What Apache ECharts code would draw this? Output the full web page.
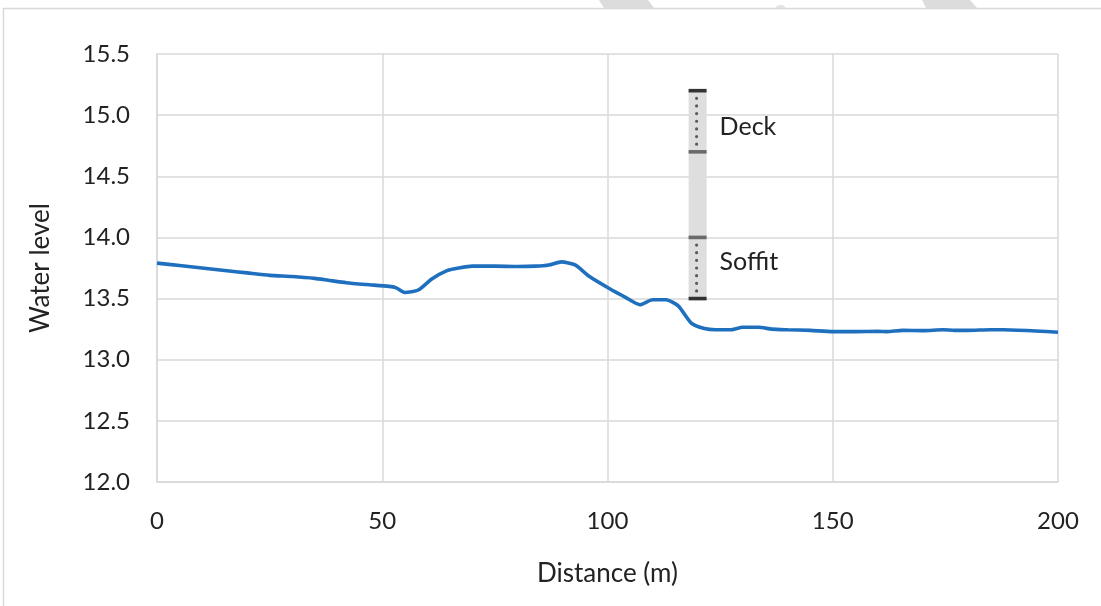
<!DOCTYPE html>
<html><head><meta charset="utf-8">
<script src="https://cdn.jsdelivr.net/npm/echarts@6/dist/echarts.min.js"></script>
<style>html,body{margin:0;padding:0;background:#fff}#c{width:1101px;height:606px}</style>
</head><body><div id="c"></div>
<script>
const distance = [0,5,10,15,20,25,30,35,38,42,46.5,51.5,53,55,58,61,64.5,67,70,75,80,84,87,89.8,92.8,96,100.5,104,107.2,110,113,115.7,118.6,121.5,124,127.5,130,133.5,136.5,140,145,150,155,160,162,165.5,170,174.5,177,180,185,188,195,200];
const waterLevel = [13.79,13.77,13.75,13.73,13.71,13.69,13.68,13.665,13.65,13.63,13.615,13.60,13.59,13.55,13.57,13.66,13.73,13.75,13.765,13.765,13.762,13.765,13.775,13.80,13.775,13.68,13.58,13.51,13.45,13.49,13.49,13.44,13.30,13.255,13.245,13.245,13.265,13.265,13.25,13.245,13.24,13.23,13.23,13.232,13.23,13.24,13.238,13.245,13.24,13.24,13.245,13.245,13.235,13.225];
const bridgeX = [120];
const deckTop = [15.2], deckBottom = [14.7];
const soffitTop = [14.0], soffitBottom = [13.5];
const bridgeLabels = ['Deck', 'Soffit'];
const bridgeLabelLevels = [14.9, 13.8];
const yTicks = {min: 12.0, max: 15.5, interval: 0.5};
const xTicks = {min: 0, max: 200, interval: 50};

const FONT = 'Lato';
const TXT = '#222222';
const chart = echarts.init(document.getElementById('c'), null, {renderer: 'canvas'});

function bridgeRender(params, api) {
  const x = api.value(0);
  const dT = api.value(1), dB = api.value(2), sT = api.value(3), sB = api.value(4);
  const pT = api.coord([x, dT]), pDB = api.coord([x, dB]), pST = api.coord([x, sT]), pB = api.coord([x, sB]);
  const w = 18;
  const children = [];
  children.push({type: 'rect', shape: {x: pT[0] - w/2, y: pT[1], width: w, height: pB[1] - pT[1]}, style: {fill: '#dedede'}});
  function dots(y1, y2) {
    const n = Math.round((y2 - y1) / 7.6);
    for (let i = 1; i < n; i++) {
      const yy = y1 + (y2 - y1) * i / n;
      children.push({type: 'circle', shape: {cx: pT[0] - 1, cy: yy, r: 1.6}, style: {fill: '#5a5a5a'}});
    }
  }
  dots(pT[1], pDB[1]);
  dots(pST[1], pB[1]);
  function cap(y, c) {
    children.push({type: 'rect', shape: {x: pT[0] - w/2, y: y - 1.8, width: w, height: 3.6}, style: {fill: c}});
  }
  cap(pT[1], '#333333'); cap(pB[1], '#333333');
  cap(pDB[1], '#6a6a6a'); cap(pST[1], '#6a6a6a');
  const labDeck = api.coord([x, bridgeLabelLevels[0]]);
  const labSoff = api.coord([x, bridgeLabelLevels[1]]);
  children.push({type: 'text', x: pT[0] + 22, y: labDeck[1], style: {text: bridgeLabels[0], fill: TXT, font: '25px ' + FONT, verticalAlign: 'middle', align: 'left'}});
  children.push({type: 'text', x: pT[0] + 22, y: labSoff[1], style: {text: bridgeLabels[1], fill: TXT, font: '25px ' + FONT, verticalAlign: 'middle', align: 'left'}});
  return {type: 'group', children};
}

chart.setOption({
  animation: false,
  backgroundColor: '#ffffff',
  graphic: [
    {type: 'polygon', shape: {points: [[599,0],[648,0],[654,8],[604,8]]}, style: {fill: '#dcdcdd'}, z: 0},
    {type: 'polygon', shape: {points: [[922,0],[970,0],[977,8],[926,8]]}, style: {fill: '#dcdcdd'}, z: 0},
    {type: 'polygon', shape: {points: [[775,8],[778,5],[783,5],[786,8]]}, style: {fill: '#e6e6e6'}, z: 0},
    {type: 'rect', shape: {x: 3.5, y: 8.5, width: 1200, height: 700}, style: {fill: 'none', stroke: '#d9d9d9', lineWidth: 1.5}, z: 1}
  ],
  grid: {left: 157, right: 43, top: 54, bottom: 124, containLabel: false},
  xAxis: {
    type: 'value', min: xTicks.min, max: xTicks.max, interval: xTicks.interval,
    name: 'Distance (m)', nameLocation: 'middle', nameGap: 79,
    nameTextStyle: {fontFamily: FONT, fontSize: 26, color: TXT},
    axisLine: {show: true, lineStyle: {color: '#d9d9d9', width: 1.5}},
    axisTick: {show: false},
    axisLabel: {fontFamily: FONT, fontSize: 24, color: TXT, margin: 27},
    splitLine: {show: true, lineStyle: {color: '#d9d9d9', width: 1.5}}
  },
  yAxis: {
    type: 'value', min: yTicks.min, max: yTicks.max, interval: yTicks.interval,
    name: 'Water level', nameLocation: 'middle', nameGap: 103, nameRotate: 90,
    nameTextStyle: {fontFamily: FONT, fontSize: 26, color: TXT},
    axisLine: {show: true, lineStyle: {color: '#d9d9d9', width: 1.5}},
    axisTick: {show: false},
    axisLabel: {fontFamily: FONT, fontSize: 24, color: TXT, margin: 27, formatter: v => v.toFixed(1)},
    splitLine: {show: true, lineStyle: {color: '#d9d9d9', width: 1.5}}
  },
  series: [
    {
      type: 'custom', renderItem: bridgeRender, z: 2,
      data: bridgeX.map((x, i) => [x, deckTop[i], deckBottom[i], soffitTop[i], soffitBottom[i]]),
      encode: {x: 0, y: [1, 4]}, silent: true
    },
    {
      type: 'line', z: 3,
      data: distance.map((d, i) => [d, waterLevel[i]]),
      showSymbol: false, smooth: 0.2,
      lineStyle: {color: '#1f6fbf', width: 3.6},
      itemStyle: {color: '#1f6fbf'}
    }
  ]
});
</script></body></html>
